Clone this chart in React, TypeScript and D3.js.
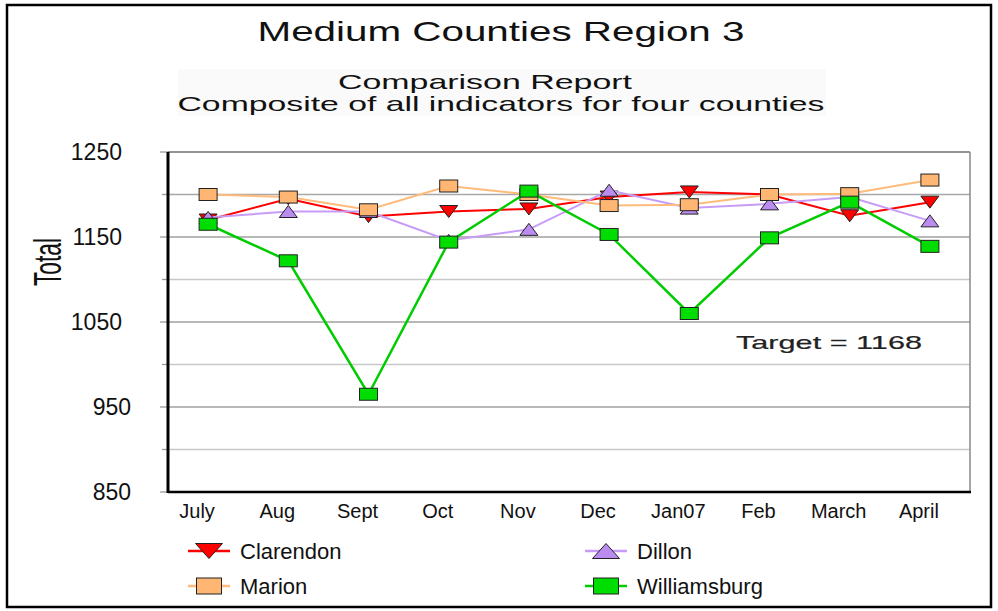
import React from 'react';
import * as d3 from 'd3';

const months = ['July', 'Aug', 'Sept', 'Oct', 'Nov', 'Dec', 'Jan07', 'Feb', 'March', 'April'];
const clarendon = [1170, 1195, 1174, 1180, 1183, 1197, 1203, 1200, 1175, 1191];
const dillon = [1173, 1180, 1180, 1146, 1159, 1205, 1184, 1189, 1197, 1169];
const marion = [1200, 1197, 1182, 1210, 1200, 1187, 1188, 1200, 1201, 1217];
const williamsburg = [1165, 1122, 965, 1144, 1204, 1153, 1060, 1149, 1191, 1139];
const yTicks = [850, 950, 1050, 1150, 1250];
const yMinor = [900, 1000, 1100, 1200];

const W = 998;
const H = 611;
const left = 168, right = 970, top = 152, bottom = 492;
const FONT = 'Liberation Sans, Arial, sans-serif';

type Series = { name: string; values: number[]; line: string; fill: string; shape: 'down' | 'up' | 'square'; width: number };
const series: Series[] = [
  { name: 'Clarendon', values: clarendon, line: '#ff0000', fill: '#ff0000', shape: 'down', width: 2 },
  { name: 'Dillon', values: dillon, line: '#c79cf7', fill: '#bb8cf0', shape: 'up', width: 2 },
  { name: 'Marion', values: marion, line: '#ffbb7a', fill: '#ffb673', shape: 'square', width: 2 },
  { name: 'Williamsburg', values: williamsburg, line: '#00cc00', fill: '#00dd00', shape: 'square', width: 2.5 },
];
const legendPos = [
  { x: 209, y: 551 },
  { x: 606, y: 551 },
  { x: 209, y: 586 },
  { x: 606, y: 586 },
];

function Marker({ shape, x, y, fill, w = 18, h = 12 }: { shape: string; x: number; y: number; fill: string; w?: number; h?: number }) {
  const hw = w / 2, hh = h / 2;
  if (shape === 'square') {
    return <rect x={x - hw} y={y - hh} width={w} height={h} fill={fill} stroke="#222" strokeWidth={1} />;
  }
  if (shape === 'down') {
    return <path d={`M${x - hw},${y - hh}L${x + hw},${y - hh}L${x},${y + hh}Z`} fill={fill} stroke="#222" strokeWidth={1} />;
  }
  return <path d={`M${x - hw},${y + hh}L${x + hw},${y + hh}L${x},${y - hh}Z`} fill={fill} stroke="#222" strokeWidth={1} />;
}

export default function App() {
  const x = d3.scaleBand<string>().domain(months).range([left, right]);
  const cx = (m: string) => (x(m) as number) + x.bandwidth() / 2;
  const y = d3.scaleLinear().domain([850, 1250]).range([bottom, top]);
  const line = d3.line<number>().x((_, i) => cx(months[i])).y((v) => y(v));

  return (
    <div style={{ position: 'fixed', left: 0, top: 0 }}>
      <svg width={W} height={H} style={{ display: 'block', fontFamily: FONT }}>
        <rect x={0} y={0} width={W} height={H} fill="#fff" />
        <rect x={7} y={5} width={984} height={602} fill="none" stroke="#000" strokeWidth={2.5} />

        <text x={501} y={41} textAnchor="middle" fontSize={28} textLength={487} lengthAdjust="spacingAndGlyphs" fill="#111">Medium Counties Region 3</text>
        <rect x={178} y={69} width={648} height={47} fill="#fafafa" />
        <text x={485} y={89} textAnchor="middle" fontSize={21} textLength={294} lengthAdjust="spacingAndGlyphs" fill="#111">Comparison Report</text>
        <text x={501} y={111} textAnchor="middle" fontSize={21} textLength={647} lengthAdjust="spacingAndGlyphs" fill="#111">Composite of all indicators for four counties</text>

        {yMinor.map((t) => (
          <g key={'m' + t}>
            <line x1={left} x2={right} y1={y(t)} y2={y(t)} stroke={t === 1200 ? '#a8a8a8' : '#c8c8c8'} strokeWidth={1.3} />
            <line x1={162} x2={left} y1={y(t)} y2={y(t)} stroke="#999" strokeWidth={1.3} />
          </g>
        ))}
        {yTicks.map((t) => (
          <g key={'t' + t}>
            <line x1={left} x2={right} y1={y(t)} y2={y(t)} stroke="#a0a0a0" strokeWidth={1.3} />
            <line x1={160} x2={left} y1={y(t)} y2={y(t)} stroke="#999" strokeWidth={1.3} />
            <text x={String(t).length === 4 ? 122 : 131} y={y(t) + 8} textAnchor="end" fontSize={23} fill="#111">{t}</text>
          </g>
        ))}
        <line x1={right} x2={right} y1={top} y2={bottom} stroke="#888" strokeWidth={1.5} />
        <line x1={left} x2={right} y1={top} y2={top} stroke="#888" strokeWidth={1.5} />
        <line x1={left} x2={right + 1} y1={bottom} y2={bottom} stroke="#000" strokeWidth={2.5} />
        <line x1={left} x2={left} y1={top} y2={bottom + 1} stroke="#000" strokeWidth={3} />

        <text transform="translate(61,262) rotate(-90) scale(0.6,1)" textAnchor="middle" fontSize={38} fill="#111">Total</text>

        {months.map((m) => (
          <text key={m} x={cx(m) - 11} y={518} textAnchor="middle" fontSize={20} fill="#111">{m}</text>
        ))}

        <text x={736} y={349} fontSize={19} fill="#222" stroke="#222" strokeWidth={0.2} textLength={186} lengthAdjust="spacingAndGlyphs">Target = 1168</text>

        {series.map((s) => (
          <g key={s.name}>
            <path d={line(s.values) || ''} fill="none" stroke={s.line} strokeWidth={s.width} />
            {s.values.map((v, i) => (
              <Marker key={i} shape={s.shape} x={cx(months[i])} y={y(v)} fill={s.fill} />
            ))}
          </g>
        ))}

        {series.map((s, i) => {
          const p = legendPos[i];
          return (
            <g key={'lg' + s.name}>
              <line x1={p.x - 21} x2={p.x + 21} y1={p.y} y2={p.y} stroke={s.line} strokeWidth={2.5} />
              <Marker shape={s.shape} x={p.x} y={p.y} fill={s.fill} w={s.shape === 'square' ? 25 : 27} h={s.shape === 'square' ? 16 : 15} />
              <text x={240 + (p.x - 209)} y={p.y + 8} fontSize={22} fill="#111">{s.name}</text>
            </g>
          );
        })}
      </svg>
    </div>
  );
}
